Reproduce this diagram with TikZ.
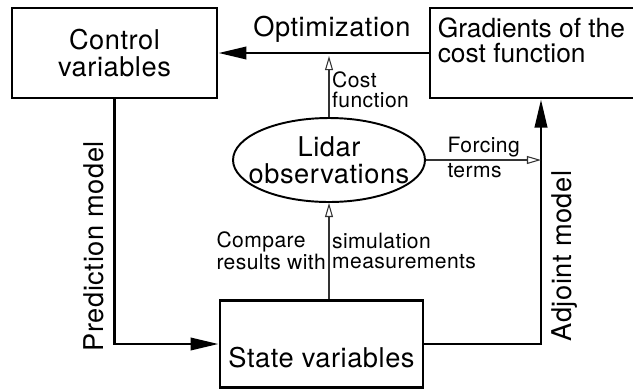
\documentclass[tikz,border=0pt]{standalone}
\usepackage{fontspec}
\setmainfont{TeX Gyre Heros}[LetterSpace=2]
\usetikzlibrary{arrows.meta,shapes.geometric}
\newcommand{\bigtext}{\fontsize{15.5}{15.5}\selectfont}
\newcommand{\smalltext}{\fontsize{12}{11.2}\selectfont}
\tikzstyle{bigarrow} = [line width=1.6pt,-{Triangle[length=16pt,width=7pt]}]
\tikzstyle{thinarrow} = [line width=0.6pt,draw=black!80,-{Triangle[open,length=8pt,width=4.5pt,fill=white]}]
\tikzstyle{box} = [draw,line width=1.6pt,minimum height=1.8cm,align=center,font=\bigtext]
\tikzstyle{lbl} = [font=\smalltext,align=left,inner sep=1.5pt]

\begin{document}
\begin{tikzpicture}[x=0.02cm,y=-0.02cm]
          \useasboundingbox (0,0) rectangle (633,390);
          \node[box,minimum width=4.1cm] at (114.5,53) (ctrl) {Control\\variables};
          \node[box,minimum width=4.16cm,
            label={[anchor=north west,inner sep=0pt,align=left,font={\fontsize{15}{14.5}\selectfont\addfontfeatures{LetterSpace=0}},xshift=5pt,yshift=-6pt]north west:Gradients of the\\cost function}]
            at (534,53) (grad) {};
          \node[draw,ellipse,line width=1.1pt,minimum width=3.84cm,minimum height=1.68cm,
            label={[align=center,font=\bigtext]center:Lidar\\observations}]
            at (329,160) (lidar) {};
          \node[box,minimum width=4.06cm,minimum height=1.74cm,text height=27pt,text depth=0pt]
            at (321.5,344) (state) {State variables};
          \coordinate (costend) at (329,56);
          \coordinate (forceend) at (541,160);

          \draw[bigarrow] (grad.west) -- (ctrl.east) node[pos=0.46,above,font=\bigtext,yshift=2pt]{Optimization};
          \draw[bigarrow] (ctrl.south) |- (state.west) node[pos=0.3,rotate=90,anchor=south,font=\bigtext,inner sep=5pt]{Prediction model};
          \draw[bigarrow] (state.east) -| ([xshift=0.14cm]grad.south) node[pos=0.68,rotate=90,anchor=north,font=\bigtext,inner sep=5pt]{Adjoint model};
          \draw[thinarrow] (lidar.north) -- (costend) node[midway,right,lbl,yshift=-2pt]{Cost\\function};
          \draw[thinarrow] (lidar.east) -- (forceend) node[pos=0.16,anchor=south west,lbl]{Forcing}
            node[pos=0.16,anchor=north west,lbl]{terms};
          \draw[thinarrow] (lidar.south |- state.north) -- (lidar.south)
            node[midway,left,lbl]{Compare\\results with} node[midway,right,lbl]{simulation\\measurements};
\end{tikzpicture}
\end{document}
